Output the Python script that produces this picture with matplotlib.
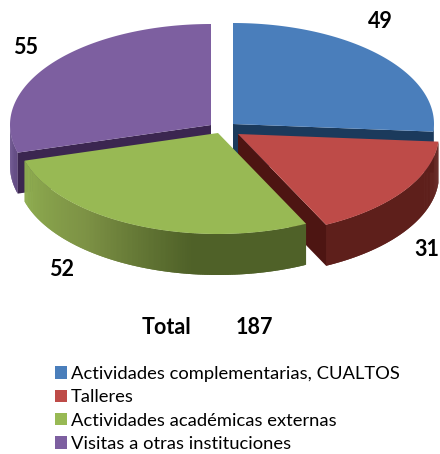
import numpy as np
import matplotlib
matplotlib.use("Agg")
import matplotlib.pyplot as plt
from matplotlib.colors import LinearSegmentedColormap
from matplotlib.patches import Patch, Polygon

categories = ["Actividades complementarias, CUALTOS", "Talleres",
              "Actividades académicas externas", "Visitas a otras instituciones"]
values = [49, 31, 52, 55]
total_label = "Total"
total_value = 187

top_colors = ["#4a7ebb", "#be4b48", "#98b954", "#7d5fa0"]
face_colors = ["#1b3a5c", "#4d1512", "#5a7030", "#3b2650"]
side_colors = [["#1b3a5c", "#1b3a5c"],
               ["#5e1f1b", "#5e1f1b"],
               ["#4f6128", "#4f6128", "#7d9245", "#8fae50"],
               ["#5f4780", "#6b5290"]]

# apex of each slice in pixels, the pie is exploded so they differ
apex_x = [233, 238, 218, 211]
apex_y = [124, 134, 133, 125]
label_x = [380, 427, 62, 26]
label_y = [21, 250, 270, 48]

rx = 201
ry = 101
depth = 41

plt.rcParams["font.family"] = ["Lato", "DejaVu Sans"]


def rim(cx, cy, a0, a1):
    # angles are clockwise from the top, in degrees
    t = np.radians(np.linspace(a0, a1, max(int(abs(a1 - a0)) * 2, 2)))
    return cx + rx * np.sin(t), cy - ry * np.cos(t)


fig = plt.figure(figsize=(4.4, 4.54), dpi=100)
ax = fig.add_axes([0, 0, 1, 1])
ax.set_xlim(0, 440)
ax.set_ylim(454, 0)
ax.axis("off")

edges = np.cumsum([0] + values) / sum(values) * 360

# back to front: purple, blue, red, green
for i in [3, 0, 1, 2]:
    cx, cy = apex_x[i], apex_y[i]
    a0, a1 = edges[i], edges[i + 1]

    # curved outer wall, only the part facing the viewer
    s0, s1 = max(a0, 90), min(a1, 270)
    if s1 > s0:
        cmap = LinearSegmentedColormap.from_list("side", side_colors[i])
        xs, ys = rim(cx, cy, s0, s1)
        n = len(xs)
        for k in range(n - 1):
            # each strip runs over the next one so no seams show
            e = min(k + 3, n)
            pts = np.column_stack([np.r_[xs[k:e], xs[k:e][::-1]],
                                   np.r_[ys[k:e], ys[k:e][::-1] + depth]])
            ax.add_patch(Polygon(pts, fc=cmap(k / (n - 1)), ec="none"))

    # straight cut wall, the side of the slice that faces the viewer
    if i in (0, 1, 3):
        cut = a0 if i == 3 else a1
        ex = cx + rx * np.sin(np.radians(cut))
        ey = cy - ry * np.cos(np.radians(cut))
        pts = [(cx, cy), (ex, ey), (ex, ey + depth), (cx, cy + depth)]
        ax.add_patch(Polygon(pts, fc=face_colors[i], ec="none"))

    xs, ys = rim(cx, cy, a0, a1)
    pts = np.column_stack([np.r_[cx, xs], np.r_[cy, ys]])
    ax.add_patch(Polygon(pts, fc=top_colors[i], ec="none"))

for i in range(4):
    ax.text(label_x[i], label_y[i], str(values[i]), fontsize=15.5, fontweight="bold",
            ha="center", va="center")

ax.text(167, 328, total_label, fontsize=15.5, fontweight="bold", ha="center", va="center")
ax.text(254, 328, str(total_value), fontsize=15.5, fontweight="bold", ha="center", va="center")

handles = [Patch(fc=c, ec="none") for c in top_colors]
ax.legend(handles, categories, loc="upper left", bbox_to_anchor=(55 / 440, 1 - 366 / 454),
          borderaxespad=0, borderpad=0, frameon=False, fontsize=13.2,
          handlelength=0.65, handleheight=0.65, handletextpad=0.22, labelspacing=0.4)

fig.savefig("out.png", dpi=100)
